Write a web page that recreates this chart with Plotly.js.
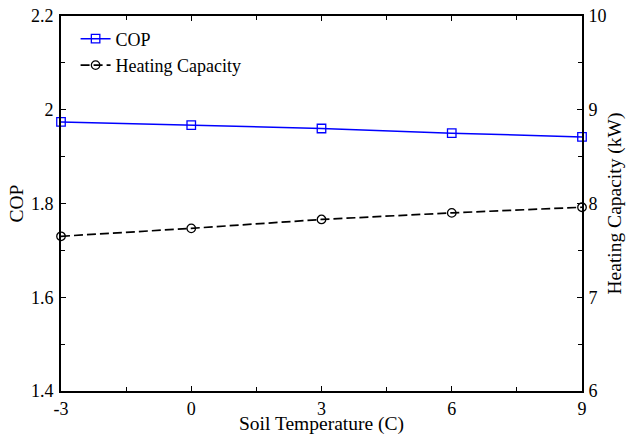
<!DOCTYPE html>
<html>
<head>
<meta charset="utf-8">
<script src="https://cdn.plot.ly/plotly-3.0.1.min.js"></script>
<style>html,body{margin:0;padding:0;background:#fff;}#chart{width:629px;height:435px;}</style>
</head>
<body>
<div id="chart"></div>
<script>
const soilTemp = [-3, 0, 3, 6, 9];
const cop = [1.974, 1.967, 1.960, 1.950, 1.942];
const heatingCapacity = [7.65, 7.735, 7.83, 7.90, 7.96];
const leftTicks = [1.4, 1.6, 1.8, 2.0, 2.2];
const leftTickText = ['1.4', '1.6', '1.8', '2', '2.2'];
const rightTicks = [6, 7, 8, 9, 10];
const xTicks = [-3, 0, 3, 6, 9];

const fam = 'Liberation Serif, Times New Roman, serif';
const tickFont = {family: fam, size: 18, color: '#000'};
const titleFont = {family: fam, size: 19.5, color: '#000'};
const legendFont = {family: fam, size: 18, color: '#000'};

const traces = [
  {
    x: soilTemp, y: cop, name: 'COP', type: 'scatter', mode: 'lines+markers',
    line: {color: '#0000ff', width: 1.5},
    marker: {symbol: 'square-open', size: 8.5, color: '#0000ff', line: {width: 1.3}},
    yaxis: 'y', cliponaxis: false
  },
  {
    x: soilTemp, y: heatingCapacity, name: 'Heating Capacity', type: 'scatter', mode: 'lines+markers',
    line: {color: '#000', width: 1.7, dash: '9px,4px'},
    marker: {symbol: 'circle-open', size: 8.5, color: '#000', line: {width: 1.3}},
    yaxis: 'y2', cliponaxis: false
  }
];

const layout = {
  width: 629, height: 435,
  margin: {l: 61, r: 47, t: 16, b: 44},
  paper_bgcolor: '#fff', plot_bgcolor: '#fff',
  font: tickFont,
  showlegend: true,
  legend: {x: 0.028, y: 0.988, xanchor: 'left', yanchor: 'top', bgcolor: 'rgba(0,0,0,0)',
           font: legendFont, itemwidth: 30, tracegroupgap: 0},
  xaxis: {
    range: [-3, 9], tickvals: xTicks, ticktext: xTicks.map(String),
    ticks: 'inside', ticklen: 5, tickwidth: 1, tickcolor: '#000',
    showline: true, linecolor: '#000', linewidth: 2, mirror: 'ticks',
    showgrid: false, zeroline: false, ticklabelstandoff: 0,
    minor: {dtick: 1.5, ticks: 'inside', ticklen: 4, tickcolor: '#000', showgrid: false},
    title: {text: 'Soil Temperature (C)', font: titleFont},
    tickfont: tickFont
  },
  yaxis: {
    range: [1.4, 2.2], tickvals: leftTicks, ticktext: leftTickText,
    ticks: 'inside', ticklen: 5, tickwidth: 1, tickcolor: '#000',
    showline: true, linecolor: '#000', linewidth: 2,
    showgrid: false, zeroline: false, ticklabelstandoff: 2,
    automargin: 'left',
    minor: {dtick: 0.1, ticks: 'inside', ticklen: 4, tickcolor: '#000', showgrid: false},
    title: {text: 'COP', font: titleFont, standoff: 2},
    tickfont: tickFont
  },
  yaxis2: {
    range: [6, 10], tickvals: rightTicks, ticktext: rightTicks.map(String),
    overlaying: 'y', side: 'right',
    ticks: 'inside', ticklen: 5, tickwidth: 1, tickcolor: '#000',
    showline: true, linecolor: '#000', linewidth: 2,
    showgrid: false, zeroline: false, ticklabelstandoff: 1,
    automargin: 'left',
    minor: {dtick: 0.5, ticks: 'inside', ticklen: 4, tickcolor: '#000', showgrid: false},
    title: {text: 'Heating Capacity (kW)', font: titleFont, standoff: 2},
    tickfont: tickFont
  }
};

Plotly.newPlot('chart', traces, layout, {displayModeBar: false, staticPlot: true});
</script>
</body>
</html>
